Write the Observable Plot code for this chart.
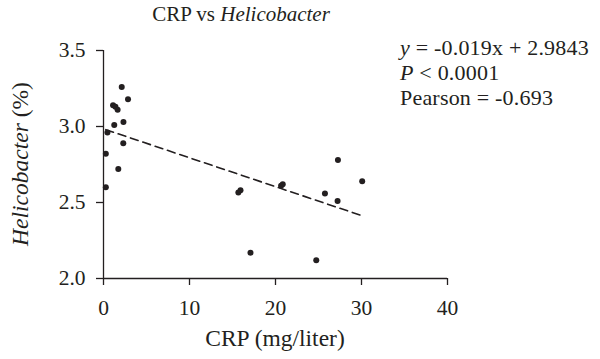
<!DOCTYPE html>
<html>
<head>
<meta charset="utf-8">
<script src="https://cdn.jsdelivr.net/npm/d3@7"></script>
<script src="https://cdn.jsdelivr.net/npm/@observablehq/plot@0.6"></script>
<style>
  html, body { margin: 0; padding: 0; background: #fff; }
  #chart { width: 600px; height: 359px; }
</style>
</head>
<body>
<div id="chart"></div>
<script>
// ---- data ----
const crp = [2.12, 2.85, 1.11, 1.39, 1.64, 2.32, 1.25, 0.46, 2.30, 0.27, 1.72, 0.27,
             27.26, 30.08, 20.84, 20.65, 25.75, 27.22, 17.09, 24.74, 15.93, 15.68];
const helicobacter = [3.26, 3.18, 3.14, 3.13, 3.11, 3.03, 3.01, 2.96, 2.89, 2.82, 2.72, 2.60,
             2.78, 2.64, 2.62, 2.61, 2.56, 2.51, 2.17, 2.12, 2.58, 2.565];
const xTicks = [0, 10, 20, 30, 40];
const yTicks = [2.0, 2.5, 3.0, 3.5];
const slope = -0.019;
const intercept = 2.9843;
const annotation = ["y = -0.019x + 2.9843", "P < 0.0001", "Pearson = -0.693"];

const points = crp.map((c, i) => ({crp: c, h: helicobacter[i]}));
const xMin = d3.min(crp), xMax = d3.max(crp);
const fit = [xMin, xMax].map(x => ({crp: x, h: intercept + slope * x}));

const ink = "#231f20";
const font = "'Liberation Serif', 'DejaVu Serif', serif";

const plot = Plot.plot({
  width: 600,
  height: 359,
  marginLeft: 103,
  marginRight: 153,
  marginTop: 50,
  marginBottom: 81,
  style: {fontFamily: font, fontSize: "21.5px", color: ink, background: "#fff"},
  x: {domain: [0, 40], ticks: xTicks, label: null},
  y: {domain: [2.0, 3.5], ticks: yTicks, label: null},
  marks: [
    Plot.axisX({ticks: xTicks, tickSize: 7, tickPadding: 14, label: null, stroke: ink, strokeWidth: 1.3, strokeOpacity: 1, fontSize: 21.5}),
    Plot.axisY({ticks: yTicks, tickSize: 7, tickPadding: 11, tickFormat: d3.format(".1f"), label: null, stroke: ink, strokeWidth: 1.3, strokeOpacity: 1, fontSize: 21.5}),
    Plot.ruleY([2.0], {x1: 0, x2: 40, stroke: ink, strokeWidth: 1.3}),
    Plot.ruleX([0], {y1: 2.0, y2: 3.5, stroke: ink, strokeWidth: 1.3}),
    Plot.line(fit, {x: "crp", y: "h", stroke: ink, strokeWidth: 1.6, strokeDasharray: "8,5"}),
    Plot.dot(points, {x: "crp", y: "h", r: 3, fill: ink, stroke: "none"})
  ]
});

document.getElementById("chart").appendChild(plot);

// ---- texts: title, axis labels, annotation ----
const svg = d3.select(plot);
const X = plot.scale("x"), Y = plot.scale("y");
const xMid = (X.apply(0) + X.apply(40)) / 2;
const yMid = (Y.apply(2.0) + Y.apply(3.5)) / 2;

const g = svg.append("g").attr("font-family", font).attr("fill", ink);

// Title
const title = g.append("text").attr("x", 241).attr("y", 21).attr("text-anchor", "middle").attr("font-size", 21);
title.append("tspan").text("CRP vs ");
title.append("tspan").attr("font-style", "italic").text("Helicobacter");

// X label
g.append("text").attr("x", xMid).attr("y", 346).attr("text-anchor", "middle").attr("font-size", 23.5).text("CRP (mg/liter)");

// Y label
const yl = g.append("text").attr("transform", `translate(28,${yMid}) rotate(-90)`).attr("text-anchor", "middle").attr("font-size", 23.5);
yl.append("tspan").attr("font-style", "italic").text("Helicobacter");
yl.append("tspan").text(" (%)");

// Annotation
const ax = 400, ay = 55, lh = 25;
const ann = g.append("g").attr("font-size", 22).attr("letter-spacing", 0.2).attr("text-anchor", "start");
const a1 = ann.append("text").attr("x", ax).attr("y", ay);
a1.append("tspan").attr("font-style", "italic").text(annotation[0].slice(0, 1));
a1.append("tspan").text(annotation[0].slice(1));
const a2 = ann.append("text").attr("x", ax).attr("y", ay + lh);
a2.append("tspan").attr("font-style", "italic").text(annotation[1].slice(0, 1));
a2.append("tspan").text(annotation[1].slice(1));
ann.append("text").attr("x", ax).attr("y", ay + 2 * lh).text(annotation[2]);
</script>
</body>
</html>
